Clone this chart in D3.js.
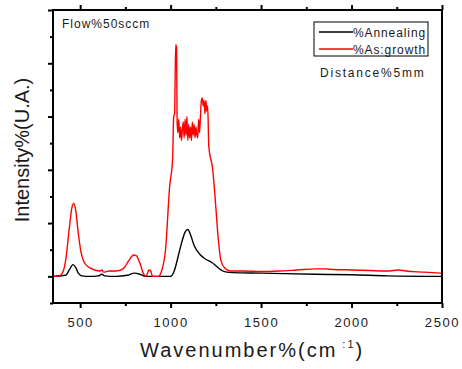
<!DOCTYPE html>
<html>
<head>
<meta charset="utf-8">
<script src="https://cdn.jsdelivr.net/npm/d3@7"></script>
<style>
  body { margin: 0; background: #fff; }
  svg text { font-family: "Liberation Sans", Arial, sans-serif; fill: #1a1a1a; }
</style>
</head>
<body>
<svg id="chart" width="462" height="369"></svg>
<script>
// wavenumber (cm-1) and intensity (a.u.)
const annealingX = [350, 420, 440, 460, 475, 490, 510, 550, 600, 620, 635, 700, 760, 800, 830, 860, 1000, 1020, 1040, 1060, 1080, 1095, 1110, 1130, 1160, 1190, 1228, 1260, 1283, 1310, 1340, 1500, 1800, 2000, 2200, 2500];
const annealingY = [0, 0.02, 0.12, 0.22, 0.17, 0.06, 0.01, 0, 0.01, 0.04, 0.01, 0, 0.02, 0.06, 0.04, 0, 0, 0.1, 0.35, 0.62, 0.83, 0.88, 0.78, 0.58, 0.42, 0.33, 0.26, 0.17, 0.11, 0.08, 0.07, 0.06, 0.04, 0.03, 0.01, 0];

const growthX = [350, 380, 400, 420, 440, 455, 465, 475, 490, 505, 520, 545, 580, 610, 620, 630, 660, 700, 740, 770, 795, 810, 830, 850, 865, 880, 890, 900, 933, 950, 972, 995, 1011, 1017, 1022, 1028, 1033, 1036, 1040, 1045, 1050, 1055, 1060, 1065, 1070, 1075, 1080, 1085, 1090, 1095, 1100, 1105, 1110, 1115, 1120, 1125, 1130, 1135, 1140, 1145, 1150, 1155, 1160, 1165, 1170, 1175, 1180, 1185, 1190, 1195, 1200, 1205, 1211, 1233, 1250, 1261, 1278, 1300, 1330, 1400, 1500, 1600, 1700, 1800, 1850, 1900, 2000, 2100, 2200, 2260, 2300, 2400, 2500];
const growthY = [0, 0, 0.05, 0.3, 0.9, 1.3, 1.37, 1.25, 0.8, 0.45, 0.28, 0.18, 0.12, 0.1, 0.12, 0.08, 0.1, 0.1, 0.15, 0.3, 0.4, 0.39, 0.25, 0.05, 0, 0.12, 0.1, 0, 0, 0.1, 0.5, 1.7, 2.2, 3.0, 3.05, 4.35, 4.3, 2.9, 2.7, 2.95, 2.6, 2.8, 2.55, 2.75, 2.9, 2.6, 2.95, 2.65, 3.0, 2.55, 2.85, 2.6, 2.8, 2.55, 2.9, 2.65, 2.85, 2.6, 2.8, 2.65, 2.6, 2.95, 2.7, 3.0, 3.3, 3.35, 3.2, 3.3, 3.05, 3.3, 3.1, 3.2, 2.45, 2.0, 1.3, 0.8, 0.3, 0.15, 0.1, 0.1, 0.09, 0.1, 0.12, 0.14, 0.14, 0.13, 0.12, 0.11, 0.1, 0.12, 0.1, 0.08, 0.06];

const xTicks = [500, 1000, 1500, 2000, 2500];
const xMinor = [750, 1250, 1750, 2250];
const yTicks = [0, 1, 2, 3, 4, 5];
const yMinor = [-0.5, 0.5, 1.5, 2.5, 3.5, 4.5];

const seriesNames = ["%Annealing", "%As:growth"];
const seriesColors = ["#000000", "#ff0000"];

const margin = { left: 53, top: 10, right: 20, bottom: 66 };
const W = 462, H = 369;
const svg = d3.select("#chart");

const x = d3.scaleLinear().domain([350, 2500]).range([margin.left, W - margin.right]);
const y = d3.scaleLinear().domain([-0.5, 5]).range([H - margin.bottom, margin.top]);

svg.append("clipPath").attr("id", "plotclip")
  .append("rect")
  .attr("x", margin.left).attr("y", margin.top)
  .attr("width", x.range()[1] - margin.left)
  .attr("height", y.range()[0] - margin.top);

const line = d3.line().x(d => x(d[0])).y(d => y(d[1])).curve(d3.curveMonotoneX);

const series = [
  d3.zip(annealingX, annealingY),
  d3.zip(growthX, growthY)
];

svg.append("g").attr("clip-path", "url(#plotclip)")
  .selectAll("path")
  .data(series)
  .join("path")
  .attr("d", line)
  .attr("fill", "none")
  .attr("stroke", (d, i) => seriesColors[i])
  .attr("stroke-width", 1.4);

// axes
function tickAxis(axisFn, values, size) {
  return axisFn.tickValues(values).tickSize(size).tickFormat("");
}
const bottomY = y.range()[0], topY = margin.top, leftX = margin.left, rightX = x.range()[1];

svg.append("g").attr("transform", `translate(0,${bottomY})`)
  .call(tickAxis(d3.axisBottom(x), xMinor, 3));
svg.append("g").attr("transform", `translate(0,${bottomY})`)
  .call(d3.axisBottom(x).tickValues(xTicks).tickSize(5).tickPadding(10).tickFormat(d3.format("d")))
  .call(g => g.selectAll("text").attr("font-size", 13).style("letter-spacing", "1.6px").attr("fill", "#1a1a1a"));
svg.append("g").attr("transform", `translate(0,${topY})`)
  .call(tickAxis(d3.axisTop(x), xMinor, 3));
svg.append("g").attr("transform", `translate(0,${topY})`)
  .call(tickAxis(d3.axisTop(x), xTicks, 5));
svg.append("g").attr("transform", `translate(${leftX},0)`)
  .call(tickAxis(d3.axisLeft(y), yMinor, 3));
svg.append("g").attr("transform", `translate(${leftX},0)`)
  .call(tickAxis(d3.axisLeft(y), yTicks, 5));

svg.selectAll(".domain").remove();
svg.selectAll(".tick line").attr("stroke", "#000").attr("stroke-width", 2);

// frame
svg.append("rect")
  .attr("x", leftX).attr("y", topY)
  .attr("width", rightX - leftX).attr("height", bottomY - topY)
  .attr("fill", "none").attr("stroke", "#000").attr("stroke-width", 2);

// axis titles
const xt = svg.append("text")
  .attr("x", 140).attr("y", 357)
  .attr("font-size", 20)
  .style("letter-spacing", "2px");
xt.append("tspan").text("Wavenumber%(cm");
xt.append("tspan").attr("dy", -9).attr("font-size", 11).text(" :1");
xt.append("tspan").attr("dy", 9).text(")");

svg.append("text")
  .attr("transform", "translate(29,150) rotate(-90)")
  .attr("text-anchor", "middle")
  .attr("font-size", 20)
  .text("Intensity%(U.A.)");

// annotations
svg.append("text").attr("x", 62).attr("y", 28).attr("font-size", 12)
  .style("letter-spacing", "1px").text("Flow%50sccm");
svg.append("text").attr("x", 320).attr("y", 77).attr("font-size", 12)
  .style("letter-spacing", "1.8px").text("Distance%5mm");

// legend
const legend = svg.append("g");
legend.append("rect")
  .attr("x", 314).attr("y", 22).attr("width", 114).attr("height", 34)
  .attr("fill", "#fff").attr("stroke", "#000").attr("stroke-width", 1);
const items = legend.selectAll("g.item").data(seriesNames).join("g")
  .attr("class", "item")
  .attr("transform", (d, i) => `translate(0,${32 + i * 17})`);
items.append("line")
  .attr("x1", 319).attr("x2", 353)
  .attr("stroke", (d, i) => seriesColors[i]).attr("stroke-width", 1.4);
items.append("text")
  .attr("x", 353).attr("y", 4.5).attr("font-size", 12)
  .style("letter-spacing", "0.9px").text(d => d);
</script>
</body>
</html>
